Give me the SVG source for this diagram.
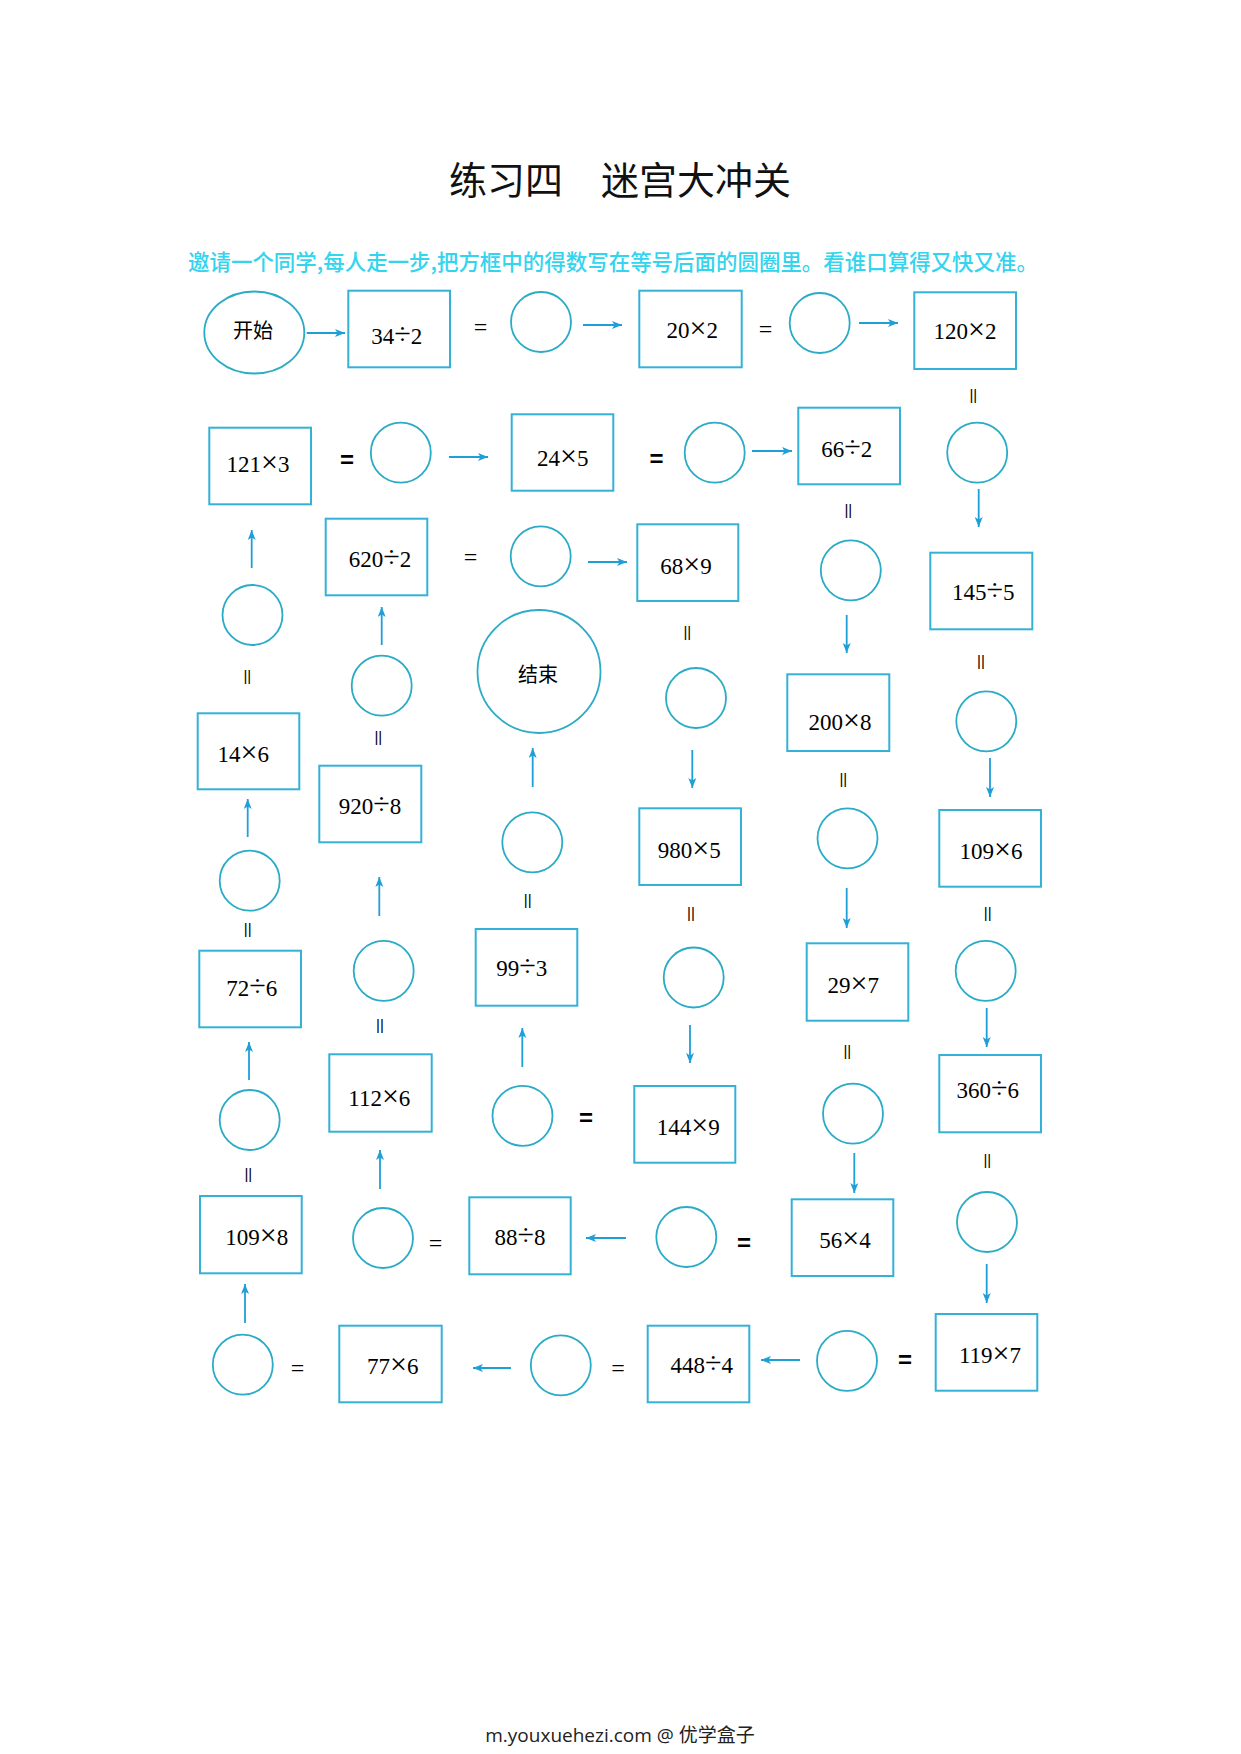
<svg xmlns="http://www.w3.org/2000/svg" width="1241" height="1754" viewBox="0 0 1241 1754">
<defs>
<style>
.box{fill:none;stroke:#34b1d6;stroke-width:2}
.cir{fill:none;stroke:#2aabc6;stroke-width:1.8}
.arr{stroke:#1f9fd8;stroke-width:1.8;fill:none}
.bt{font-family:"Liberation Serif","Times New Roman",serif;font-size:23px;fill:#000;text-anchor:middle}
.op{font-size:30px}
.eq{font-family:"Liberation Serif","Times New Roman",serif;font-size:24px;fill:#000;text-anchor:middle}
.eqb{font-family:"Liberation Sans",Arial,sans-serif;font-size:24px;font-weight:bold;fill:#000;text-anchor:middle}
.vb{font-family:"Liberation Sans",Arial,sans-serif;font-size:15px;fill:#000;text-anchor:middle}
.cj{font-family:"Noto Sans CJK SC",sans-serif;font-size:20px;fill:#000;text-anchor:middle}
</style>
<marker id="ah" markerUnits="userSpaceOnUse" markerWidth="12" markerHeight="10" refX="10" refY="4" orient="auto">
<path d="M0,0 L10,4 L0,8 L2.5,4 Z" fill="#1f9fd8"/>
</marker>
</defs>
<rect width="1241" height="1754" fill="#fff"/>
<text x="620" y="194" font-family="Noto Sans CJK SC,sans-serif" font-size="38" fill="#111" text-anchor="middle">练习四　迷宫大冲关</text>
<text x="188" y="270" font-family="Noto Sans CJK SC,sans-serif" font-size="22" font-weight="500" fill="#33d4ee" textLength="850" lengthAdjust="spacingAndGlyphs">邀请一个同学,每人走一步,把方框中的得数写在等号后面的圆圈里。看谁口算得又快又准。</text>
<text x="620" y="1742" font-family="Open Sans,Noto Sans CJK SC,sans-serif" font-size="19" fill="#222" text-anchor="middle">m.youxuehezi.com @ 优学盒子</text>

<g id="start"><ellipse class="cir" cx="254.3" cy="332.5" rx="50" ry="41"/><text class="cj" x="253" y="338">开始</text></g>
<g id="end"><circle class="cir" cx="539" cy="671.5" r="61.5"/><text class="cj" x="538" y="682">结束</text></g>

<g id="b1"><rect class="box" x="348.3" y="290.7" width="101.7" height="76.6"/><text class="bt" x="396.7" y="344">34<tspan class="op">÷</tspan>2</text></g>
<g id="b2"><rect class="box" x="639.3" y="290.7" width="102.4" height="76.6"/><text class="bt" x="692.3" y="338">20<tspan class="op">×</tspan>2</text></g>
<g id="b3"><rect class="box" x="914.3" y="292.3" width="101.7" height="76.7"/><text class="bt" x="965" y="339">120<tspan class="op">×</tspan>2</text></g>
<g id="b4"><rect class="box" x="209.3" y="427.7" width="101.7" height="76.6"/><text class="bt" x="258" y="472">121<tspan class="op">×</tspan>3</text></g>
<g id="b5"><rect class="box" x="511.7" y="414.3" width="101.6" height="76.4"/><text class="bt" x="562.7" y="466">24<tspan class="op">×</tspan>5</text></g>
<g id="b6"><rect class="box" x="798.3" y="407.7" width="101.7" height="76.6"/><text class="bt" x="846.7" y="457">66<tspan class="op">÷</tspan>2</text></g>
<g id="b7"><rect class="box" x="325.7" y="518.7" width="101.6" height="76.6"/><text class="bt" x="380" y="567">620<tspan class="op">÷</tspan>2</text></g>
<g id="b8"><rect class="box" x="637.3" y="524.3" width="101" height="76.7"/><text class="bt" x="686" y="574">68<tspan class="op">×</tspan>9</text></g>
<g id="b9"><rect class="box" x="930.3" y="552.7" width="102" height="76.6"/><text class="bt" x="983.3" y="600">145<tspan class="op">÷</tspan>5</text></g>
<g id="b10"><rect class="box" x="197.7" y="713.3" width="101.6" height="76"/><text class="bt" x="243.3" y="762">14<tspan class="op">×</tspan>6</text></g>
<g id="b11"><rect class="box" x="787.3" y="674.3" width="102" height="76.7"/><text class="bt" x="840" y="730">200<tspan class="op">×</tspan>8</text></g>
<g id="b12"><rect class="box" x="319.3" y="765.7" width="102" height="76.6"/><text class="bt" x="370" y="814">920<tspan class="op">÷</tspan>8</text></g>
<g id="b13"><rect class="box" x="639.3" y="808.3" width="101.7" height="76.7"/><text class="bt" x="689.3" y="858">980<tspan class="op">×</tspan>5</text></g>
<g id="b14"><rect class="box" x="939.3" y="810" width="101.7" height="76.7"/><text class="bt" x="991" y="859">109<tspan class="op">×</tspan>6</text></g>
<g id="b15"><rect class="box" x="475.7" y="929" width="101.6" height="76.7"/><text class="bt" x="521.7" y="976">99<tspan class="op">÷</tspan>3</text></g>
<g id="b16"><rect class="box" x="806.7" y="943.3" width="101.6" height="77.4"/><text class="bt" x="853.3" y="993">29<tspan class="op">×</tspan>7</text></g>
<g id="b17"><rect class="box" x="199.3" y="950.7" width="101.7" height="76.6"/><text class="bt" x="251.7" y="996">72<tspan class="op">÷</tspan>6</text></g>
<g id="b18"><rect class="box" x="329.3" y="1054.3" width="102.4" height="77.4"/><text class="bt" x="379.3" y="1106">112<tspan class="op">×</tspan>6</text></g>
<g id="b19"><rect class="box" x="939.3" y="1055" width="101.7" height="77.3"/><text class="bt" x="987.7" y="1098">360<tspan class="op">÷</tspan>6</text></g>
<g id="b20"><rect class="box" x="634.3" y="1086" width="101" height="76.7"/><text class="bt" x="688.3" y="1135">144<tspan class="op">×</tspan>9</text></g>
<g id="b21"><rect class="box" x="200" y="1196" width="101.7" height="77.3"/><text class="bt" x="256.7" y="1245">109<tspan class="op">×</tspan>8</text></g>
<g id="b22"><rect class="box" x="469.3" y="1197.3" width="101.4" height="77"/><text class="bt" x="520" y="1245">88<tspan class="op">÷</tspan>8</text></g>
<g id="b23"><rect class="box" x="791.7" y="1199.3" width="101.6" height="76.7"/><text class="bt" x="845" y="1248">56<tspan class="op">×</tspan>4</text></g>
<g id="b24"><rect class="box" x="935.7" y="1314" width="101.6" height="76.7"/><text class="bt" x="990" y="1363">119<tspan class="op">×</tspan>7</text></g>
<g id="b25"><rect class="box" x="339.3" y="1325.7" width="102.4" height="76.6"/><text class="bt" x="392.7" y="1374">77<tspan class="op">×</tspan>6</text></g>
<g id="b26"><rect class="box" x="647.7" y="1325.7" width="101.6" height="76.6"/><text class="bt" x="701.7" y="1373">448<tspan class="op">÷</tspan>4</text></g>

<g id="c1"><circle class="cir" cx="541" cy="322" r="30"/></g>
<g id="c2"><circle class="cir" cx="819.7" cy="323" r="30"/></g>
<g id="c3"><circle class="cir" cx="400.8" cy="452.7" r="30"/></g>
<g id="c4"><circle class="cir" cx="714.7" cy="452.7" r="30"/></g>
<g id="c5"><circle class="cir" cx="977.2" cy="452.7" r="30"/></g>
<g id="c6"><circle class="cir" cx="540.7" cy="556.3" r="30"/></g>
<g id="c7"><circle class="cir" cx="850.8" cy="570.3" r="30"/></g>
<g id="c8"><circle class="cir" cx="252.5" cy="615" r="30"/></g>
<g id="c9"><circle class="cir" cx="381.7" cy="685.7" r="30"/></g>
<g id="c10"><circle class="cir" cx="696" cy="698" r="30"/></g>
<g id="c11"><circle class="cir" cx="986.3" cy="721.3" r="30"/></g>
<g id="c12"><circle class="cir" cx="532.3" cy="842.3" r="30"/></g>
<g id="c13"><circle class="cir" cx="847.5" cy="838.3" r="30"/></g>
<g id="c14"><circle class="cir" cx="249.7" cy="880.7" r="30"/></g>
<g id="c15"><circle class="cir" cx="383.7" cy="970.8" r="30"/></g>
<g id="c16"><circle class="cir" cx="693.7" cy="977.5" r="30"/></g>
<g id="c17"><circle class="cir" cx="985.7" cy="970.8" r="30"/></g>
<g id="c18"><circle class="cir" cx="522.5" cy="1115.8" r="30"/></g>
<g id="c19"><circle class="cir" cx="853" cy="1113.7" r="30"/></g>
<g id="c20"><circle class="cir" cx="249.7" cy="1120" r="30"/></g>
<g id="c21"><circle class="cir" cx="987" cy="1222" r="30"/></g>
<g id="c22"><circle class="cir" cx="383" cy="1238" r="30"/></g>
<g id="c23"><circle class="cir" cx="686.3" cy="1237" r="30"/></g>
<g id="c24"><circle class="cir" cx="242.8" cy="1364.7" r="30"/></g>
<g id="c25"><circle class="cir" cx="560.8" cy="1365.3" r="30"/></g>
<g id="c26"><circle class="cir" cx="847" cy="1360.8" r="30"/></g>

<g id="equals">
<text class="eq" x="480.5" y="335">=</text>
<text class="eq" x="765.5" y="337">=</text>
<text class="eq" x="470.5" y="565">=</text>
<text class="eq" x="297.5" y="1376">=</text>
<text class="eq" x="618" y="1376">=</text>
<text class="eq" x="435.5" y="1251">=</text>
<text class="eqb" x="347" y="468">=</text>
<text class="eqb" x="656.5" y="467">=</text>
<text class="eqb" x="586" y="1126">=</text>
<text class="eqb" x="744" y="1251">=</text>
<text class="eqb" x="905" y="1368">=</text>
<text class="vb" x="973.3" y="400">||</text>
<text class="vb" x="848.3" y="515">||</text>
<text class="vb" x="687.3" y="637">||</text>
<text class="vb" x="981" y="666">||</text>
<text class="vb" x="247.3" y="681">||</text>
<text class="vb" x="378.3" y="742">||</text>
<text class="vb" x="843.3" y="784">||</text>
<text class="vb" x="527.7" y="905">||</text>
<text class="vb" x="691" y="918">||</text>
<text class="vb" x="987.7" y="918">||</text>
<text class="vb" x="247.7" y="934">||</text>
<text class="vb" x="380" y="1030">||</text>
<text class="vb" x="847.3" y="1056">||</text>
<text class="vb" x="987.3" y="1165">||</text>
<text class="vb" x="248.3" y="1179">||</text>
</g>

<g id="connectors" class="arr" marker-end="url(#ah)">
<line x1="306.7" y1="333" x2="345" y2="333"/>
<line x1="583" y1="325" x2="622" y2="325"/>
<line x1="859" y1="323" x2="898" y2="323"/>
<line x1="449" y1="457" x2="488" y2="457"/>
<line x1="752" y1="451" x2="792" y2="451"/>
<line x1="588" y1="562" x2="627" y2="562"/>
<line x1="511" y1="1368" x2="473" y2="1368"/>
<line x1="626" y1="1238" x2="586" y2="1238"/>
<line x1="800" y1="1360" x2="761" y2="1360"/>
<line x1="251.7" y1="568" x2="251.7" y2="530"/>
<line x1="381.7" y1="645" x2="381.7" y2="607"/>
<line x1="532.7" y1="787" x2="532.7" y2="748"/>
<line x1="978.7" y1="489" x2="978.7" y2="527"/>
<line x1="846.7" y1="615" x2="846.7" y2="653"/>
<line x1="692.3" y1="750" x2="692.3" y2="788"/>
<line x1="990" y1="758" x2="990" y2="797"/>
<line x1="247.7" y1="837" x2="247.7" y2="799"/>
<line x1="379.3" y1="916" x2="379.3" y2="877"/>
<line x1="846.7" y1="888" x2="846.7" y2="928"/>
<line x1="986.7" y1="1008" x2="986.7" y2="1047"/>
<line x1="690" y1="1025" x2="690" y2="1063"/>
<line x1="249" y1="1080" x2="249" y2="1042"/>
<line x1="522.3" y1="1067" x2="522.3" y2="1028"/>
<line x1="380" y1="1189" x2="380" y2="1150"/>
<line x1="854.3" y1="1153" x2="854.3" y2="1193"/>
<line x1="245" y1="1323" x2="245" y2="1284"/>
<line x1="986.7" y1="1264" x2="986.7" y2="1303"/>
</g>
</svg>
